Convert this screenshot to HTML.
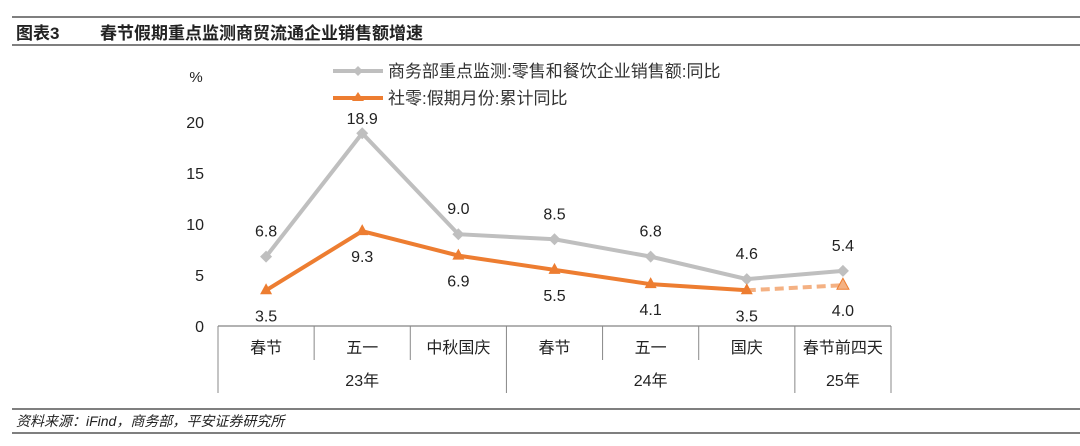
<!DOCTYPE html>
<html><head><meta charset="utf-8"><style>
body{margin:0;width:1080px;height:446px;background:#fff;overflow:hidden;font-family:"Liberation Sans","Noto Sans CJK SC",sans-serif}
svg{position:absolute;left:0;top:0}
</style></head><body>
<svg width="1080" height="446" font-family="Liberation Sans, Noto Sans CJK SC, sans-serif">
<line x1="12" y1="17" x2="1080" y2="17" stroke="#555" stroke-width="1.5"/>
<text x="16" y="39" font-size="17" font-weight="bold" fill="#222">图表3</text>
<text x="100" y="39" font-size="17" font-weight="bold" fill="#222">春节假期重点监测商贸流通企业销售额增速</text>
<line x1="12" y1="45" x2="1080" y2="45" stroke="#555" stroke-width="1.5"/>
<text x="196" y="82" font-size="15" text-anchor="middle" fill="#222">%</text>
<g>
<g>
<line x1="333" y1="71" x2="383" y2="71" stroke="#bfbfbf" stroke-width="4"/>
<path d="M358 66 L363 71 L358 76 L353 71Z" fill="#bfbfbf"/>
<text x="388" y="77" font-size="17" fill="#333">商务部重点监测:零售和餐饮企业销售额:同比</text></g>
<g>
<line x1="333" y1="98" x2="383" y2="98" stroke="#ed7d31" stroke-width="4"/>
<path d="M358 92 L364 101 L352 101Z" fill="#ed7d31"/>
<text x="388" y="104" font-size="17" fill="#333">社零:假期月份:累计同比</text></g>
</g>
<g id="axes"></g>
<g id="marks"></g>
<line x1="12" y1="409" x2="1080" y2="409" stroke="#555" stroke-width="1.5"/>
<text x="16" y="426" font-size="14" font-style="italic" fill="#222">资料来源：iFind，商务部，平安证券研究所</text>
<line x1="12" y1="433" x2="1080" y2="433" stroke="#555" stroke-width="1.5"/>
</svg>
<script>
const categories=["春节","五一","中秋国庆","春节","五一","国庆","春节前四天"];
const groups=[["23年",0,3],["24年",3,6],["25年",6,7]];
const grayValues=[6.8,18.9,9.0,8.5,6.8,4.6,5.4];
const orangeValues=[3.5,9.3,6.9,5.5,4.1,3.5,4.0];
const yTicks=[0,5,10,15,20];
const NS="http://www.w3.org/2000/svg";
const x0=218,x1=891,y0=326,yTop=122,yMax=20;
const bw=(x1-x0)/categories.length;
const xs=i=>x0+bw*(i+0.5);
const ys=v=>y0-(y0-yTop)*v/yMax;
function mk(tag,attrs,parent,text){const e=document.createElementNS(NS,tag);for(const k in attrs)e.setAttribute(k,attrs[k]);if(text!==undefined)e.textContent=text;parent.appendChild(e);return e;}
const ax=document.getElementById('axes'),mg=document.getElementById('marks');
yTicks.forEach(t=>{const e=mk('text',{x:204,y:ys(t)+6,'font-size':16,'text-anchor':'end',fill:'#222'},ax,t);

});
const xa=mk('line',{x1:x0,y1:y0,x2:x1,y2:y0,stroke:'#666','stroke-width':1},ax);


const bounds=new Set(groups.map(g=>g[1]).concat([categories.length]));
for(let i=0;i<=categories.length;i++){const l=mk('line',{x1:x0+bw*i,y1:y0,x2:x0+bw*i,y2:bounds.has(i)?393:360,stroke:'#888','stroke-width':1},ax);

}
categories.forEach((c,i)=>{const e=mk('text',{x:xs(i),y:353,'font-size':16,'text-anchor':'middle',fill:'#222'},ax,c);

});
groups.forEach(g=>{const e=mk('text',{x:x0+bw*(g[1]+g[2])/2,y:386,'font-size':16,'text-anchor':'middle',fill:'#222'},ax,g[0]);

});
// gray series
const gp=mk('polyline',{points:grayValues.map((v,i)=>xs(i)+','+ys(v)).join(' '),fill:'none',stroke:'#bfbfbf','stroke-width':4},mg);


grayValues.forEach((v,i)=>{const x=xs(i),y=ys(v);
const m=mk('path',{d:`M${x} ${y-6}L${x+6} ${y}L${x} ${y+6}L${x-6} ${y}Z`,fill:'#bfbfbf'},mg);


const t=mk('text',{x:x,y:y-(i===1?9:20),'font-size':16,'text-anchor':'middle',fill:'#222'},mg,v.toFixed(1));

});
// orange series
const n=orangeValues.length;
const op=mk('polyline',{points:orangeValues.slice(0,n-1).map((v,i)=>xs(i)+','+ys(v)).join(' '),fill:'none',stroke:'#ed7d31','stroke-width':4},mg);


const od=mk('line',{x1:xs(n-2),y1:ys(orangeValues[n-2]),x2:xs(n-1),y2:ys(orangeValues[n-1]),stroke:'#f4b183','stroke-width':4,'stroke-dasharray':'9 5'},mg);


orangeValues.forEach((v,i)=>{const x=xs(i),y=ys(v);const last=i===n-1;
const m=mk('path',{d:`M${x} ${y-7}L${x+6} ${y+4}L${x-6} ${y+4}Z`,fill:last?'#f4b183':'#ed7d31',stroke:last?'#ed7d31':'none','stroke-width':1},mg);


const t=mk('text',{x:x,y:Math.min(y+31,324),'font-size':16,'text-anchor':'middle',fill:'#222'},mg,v.toFixed(1));

});
</script>
</body></html>
